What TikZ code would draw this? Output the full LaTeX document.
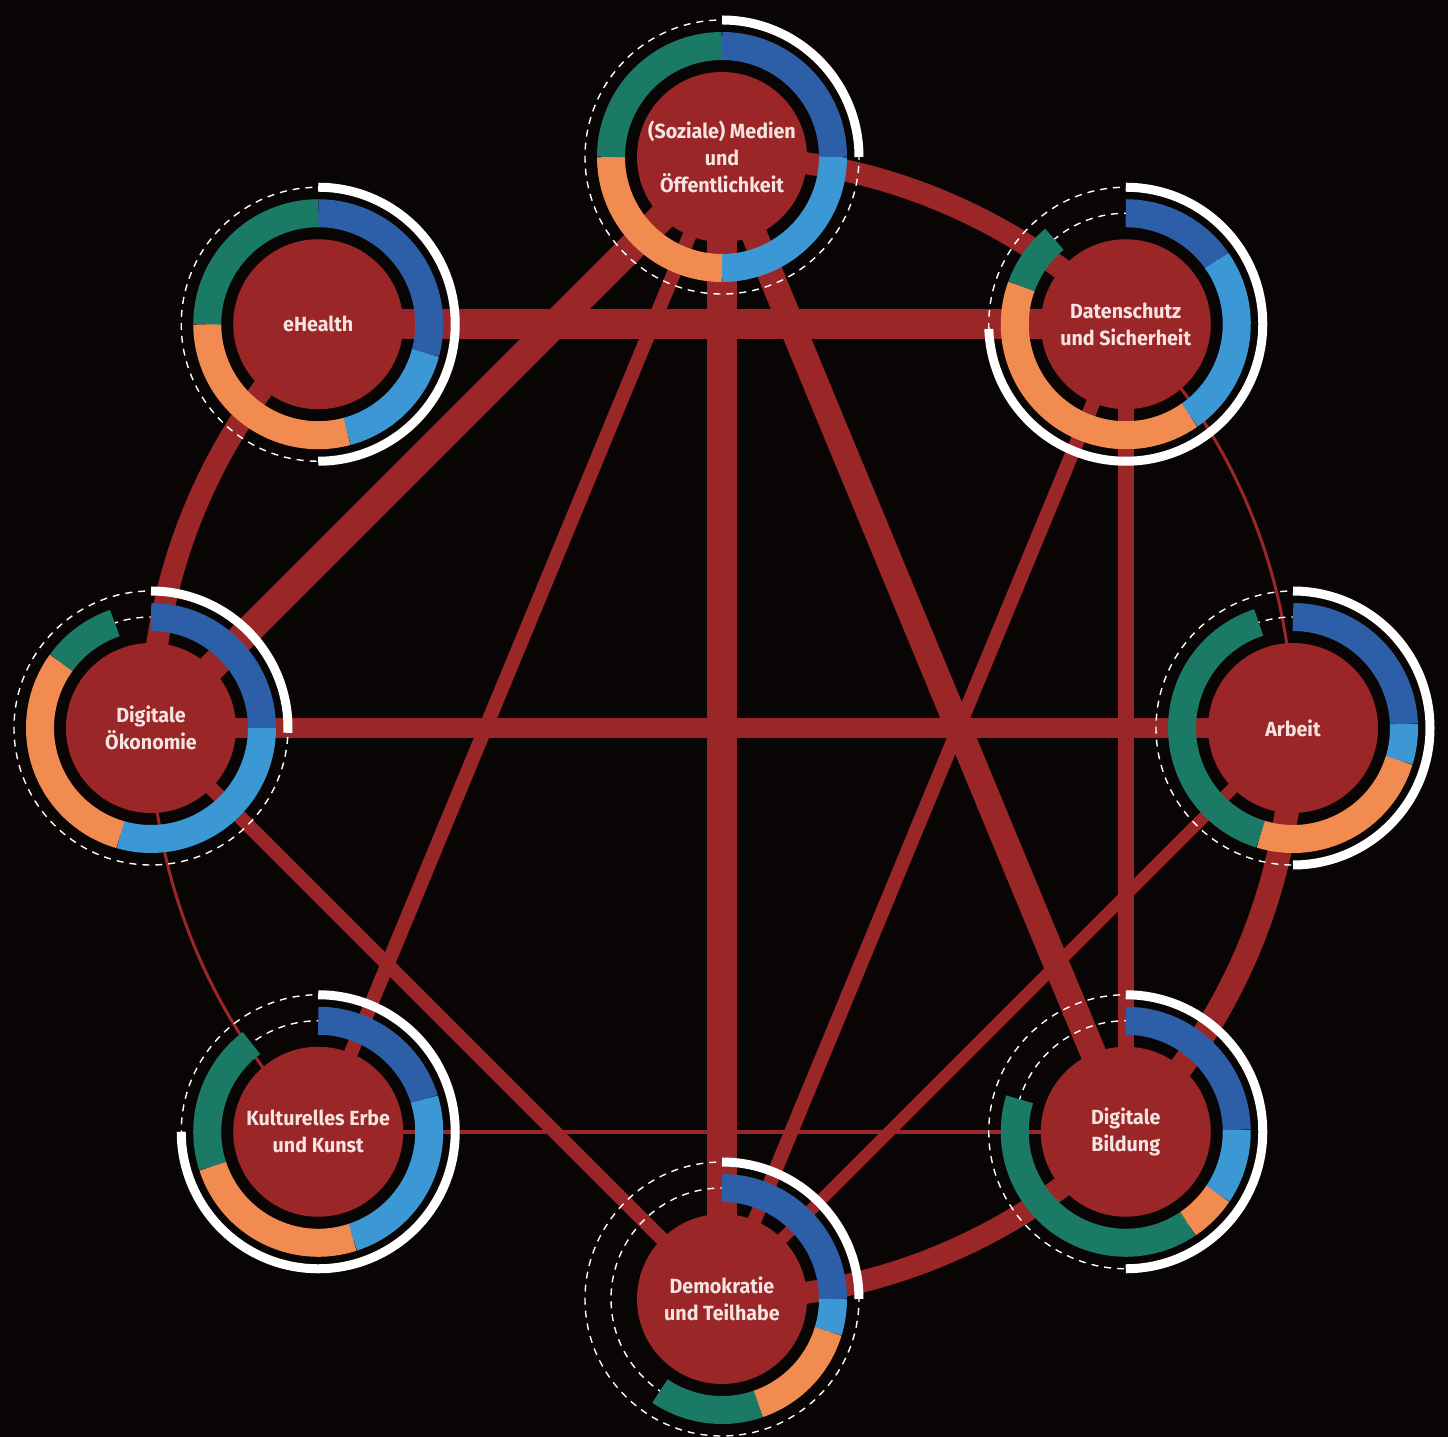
\documentclass[tikz,border=0pt]{standalone}
\usepackage{fontspec}
\setmainfont{Fira Sans}[FakeStretch=0.96]
\usepackage{tikz}
\usetikzlibrary{calc}

\definecolor{bgblack}{HTML}{090505}
\definecolor{topicred}{HTML}{9B2628}
\definecolor{labelpink}{HTML}{F6E4E2}
\definecolor{segdblue}{HTML}{2D5EA8}
\definecolor{seglblue}{HTML}{3C98D4}
\definecolor{segorange}{HTML}{F28B4F}
\definecolor{seggreen}{HTML}{1B7A66}

\pgfdeclarelayer{background}
\pgfsetlayers{background,main}

\tikzset{
	topic/.style={circle, fill=topicred, minimum size=170pt, inner sep=0pt, align=center,
		text=labelpink, font=\fontsize{20.5}{27}\selectfont\bfseries},
	link/.style={draw=topicred},
	seg/.style={line width=28pt},
	ringdash/.style={draw=white, line width=1.4pt, dash pattern=on 7pt off 6pt},
	whitearc/.style={draw=white, line width=9pt}
}

% ring of one topic: node, ends of the four parts, end of the white arc (degrees from 12 o'clock)
\newcommand\topicring[6]{%
	\draw[ringdash] (#1.center) circle[radius=137pt];
	\draw[ringdash] (#1.center) circle[radius=111pt];
	\draw[seg,segdblue] (#1.center) ++(90:111pt) arc[start angle=90, end angle=90-#2, radius=111pt];
	\draw[seg,seglblue] (#1.center) ++({90-#2}:111pt) arc[start angle=90-#2, end angle=90-#3, radius=111pt];
	\draw[seg,segorange] (#1.center) ++({90-#3}:111pt) arc[start angle=90-#3, end angle=90-#4, radius=111pt];
	\draw[seg,seggreen] (#1.center) ++({90-#4}:111pt) arc[start angle=90-#4, end angle=90-#5, radius=111pt];
	\draw[whitearc] (#1.center) ++(90:137pt) arc[start angle=90, end angle=90-#6, radius=137pt];
}

\begin{document}
\begin{tikzpicture}[x=1pt,y=1pt]
	\useasboundingbox (-722,-709) rectangle (726,728);

	% topics on the big circle
	\node[topic] (med) at (90:571) {(Soziale) Medien\\und\\Öffentlichkeit};
	\node[topic] (dat) at (45:571) {Datenschutz\\und Sicherheit};
	\node[topic] (arb) at (0:571) {Arbeit};
	\node[topic] (bil) at (-45:571) {Digitale\\Bildung};
	\node[topic] (dem) at (-90:571) {Demokratie\\und Teilhabe};
	\node[topic] (kul) at (-135:571) {Kulturelles Erbe\\und Kunst};
	\node[topic] (oek) at (180:571) {Digitale\\Ökonomie};
	\node[topic] (ehe) at (135:571) {eHealth};

	\topicring{med}{90}{180}{270}{360}{90}
	\topicring{ehe}{105}{165}{270}{360}{180}
	\topicring{dat}{55}{145}{290}{320}{268}
	\topicring{oek}{90}{196}{306}{341}{92}
	\topicring{arb}{88}{107}{197}{342}{180}
	\topicring{kul}{73}{162}{252}{323}{270}
	\topicring{bil}{89}{124}{146}{287}{180}
	\topicring{dem}{90}{107}{161}{214}{90}

	\begin{pgfonlayer}{background}
		\fill[bgblack] (-722,-709) rectangle (726,728);
		% neighbours, along the circle
		\draw[link,line width=22pt] (med.center) arc[start angle=90, end angle=45, radius=571pt];
		\draw[link,line width=3pt] (dat.center) arc[start angle=45, end angle=0, radius=571pt];
		\draw[link,line width=24pt] (arb.center) arc[start angle=0, end angle=-45, radius=571pt];
		\draw[link,line width=22pt] (bil.center) arc[start angle=-45, end angle=-90, radius=571pt];
		\draw[link,line width=3pt] (kul.center) arc[start angle=-135, end angle=-180, radius=571pt];
		\draw[link,line width=22pt] (oek.center) arc[start angle=180, end angle=135, radius=571pt];
		% straight links
		\draw[link,line width=30pt] (ehe.center) -- (dat.center);
		\draw[link,line width=20pt] (oek.center) -- (arb.center);
		\draw[link,line width=4pt] (kul.center) -- (bil.center);
		\draw[link,line width=30pt] (med.center) -- (dem.center);
		\draw[link,line width=16pt] (dat.center) -- (bil.center);
		\draw[link,line width=28pt] (med.center) -- (oek.center);
		\draw[link,line width=14pt] (med.center) -- (kul.center);
		\draw[link,line width=26pt] (med.center) -- (bil.center);
		\draw[link,line width=14pt] (oek.center) -- (dem.center);
		\draw[link,line width=14pt] (dat.center) -- (dem.center);
		\draw[link,line width=12pt] (arb.center) -- (dem.center);
	\end{pgfonlayer}
\end{tikzpicture}
\end{document}
